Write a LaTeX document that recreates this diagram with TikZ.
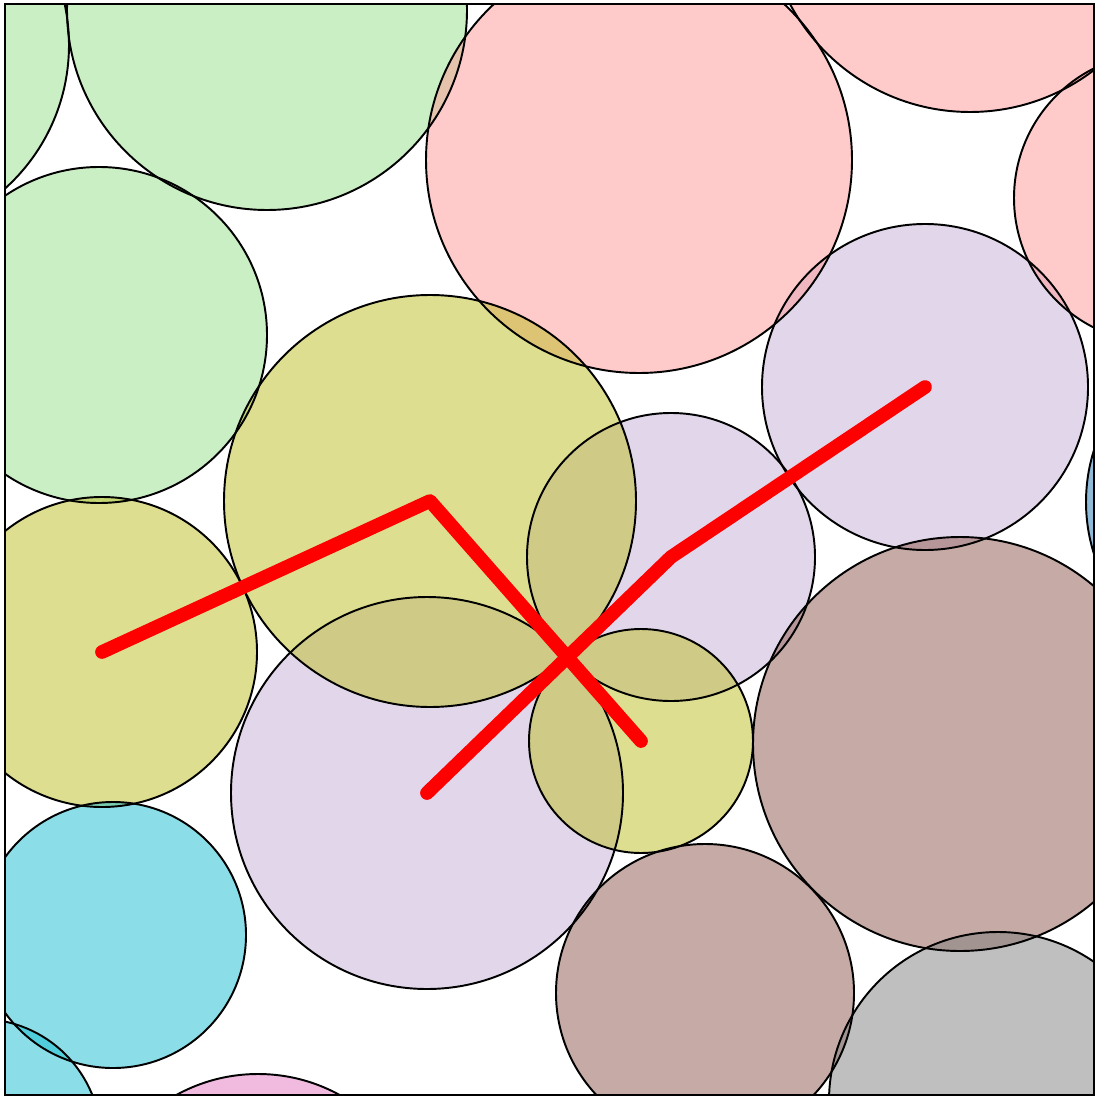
\documentclass[tikz,border=0pt]{standalone}
\usepackage{xcolor}
\definecolor{lgreen}{RGB}{152,223,138}
\definecolor{lred}{RGB}{255,152,150}
\definecolor{lpurple}{RGB}{197,176,213}
\definecolor{tolive}{RGB}{188,189,34}
\definecolor{tbrown}{RGB}{140,86,75}
\definecolor{tgray}{RGB}{127,127,127}
\definecolor{tcyan}{RGB}{23,190,207}
\definecolor{tpink}{RGB}{227,119,194}
\definecolor{tblue}{RGB}{31,119,180}
\def\discs{gr1/-124/45/193/lgreen, gr2/267/10/200/lgreen, gr3/99/335/168/lgreen,
  pu3/925/387/163/lpurple, pu2/671/557/144/lpurple, pu1/427/793/196/lpurple,
  rd1/639/160/213/lred, rd2/970/-92/204/lred, rd3/1159/198/145/lred,
  ol2/430/501/206/tolive, ol1/102/652/155/tolive, ol3/641/741/112/tolive,
  br1/960/744/207/tbrown, br2/705/993/149/tbrown, gy1/998/1101/169/tgray,
  cy1/113/935/133/tcyan, cy2/-20/1140/121/tcyan, pk1/258/1243/169/tpink,
  bl1/1258/502/172/tblue}

\begin{document}
\begin{tikzpicture}[x=0.01cm,y=-0.01cm,
  rim/.style={draw=black,line width=0.55pt},
  track/.style={red,line width=3.9pt,line cap=round,line join=round}]
\useasboundingbox (0,0) rectangle (1095,1097);
\coordinate (nw) at (5,4);
\coordinate (se) at (1094,1095);
\begin{scope}
  \clip (nw) rectangle (se);
  \foreach \n/\x/\y/\r/\c in \discs {
    \coordinate (\n) at (\x,\y);
    \fill[\c,fill opacity=0.5] (\n) circle[radius=\r*0.01cm];
  }
  \foreach \n/\x/\y/\r/\c in \discs
    \draw[rim] (\n) circle[radius=\r*0.01cm];
  \draw[track] (ol1) -- (ol2) -- (ol3);
  \draw[track] (pu1) -- (pu2) -- (pu3);
\end{scope}
\draw[line width=0.8pt] (nw) rectangle (se);
\end{tikzpicture}
\end{document}
